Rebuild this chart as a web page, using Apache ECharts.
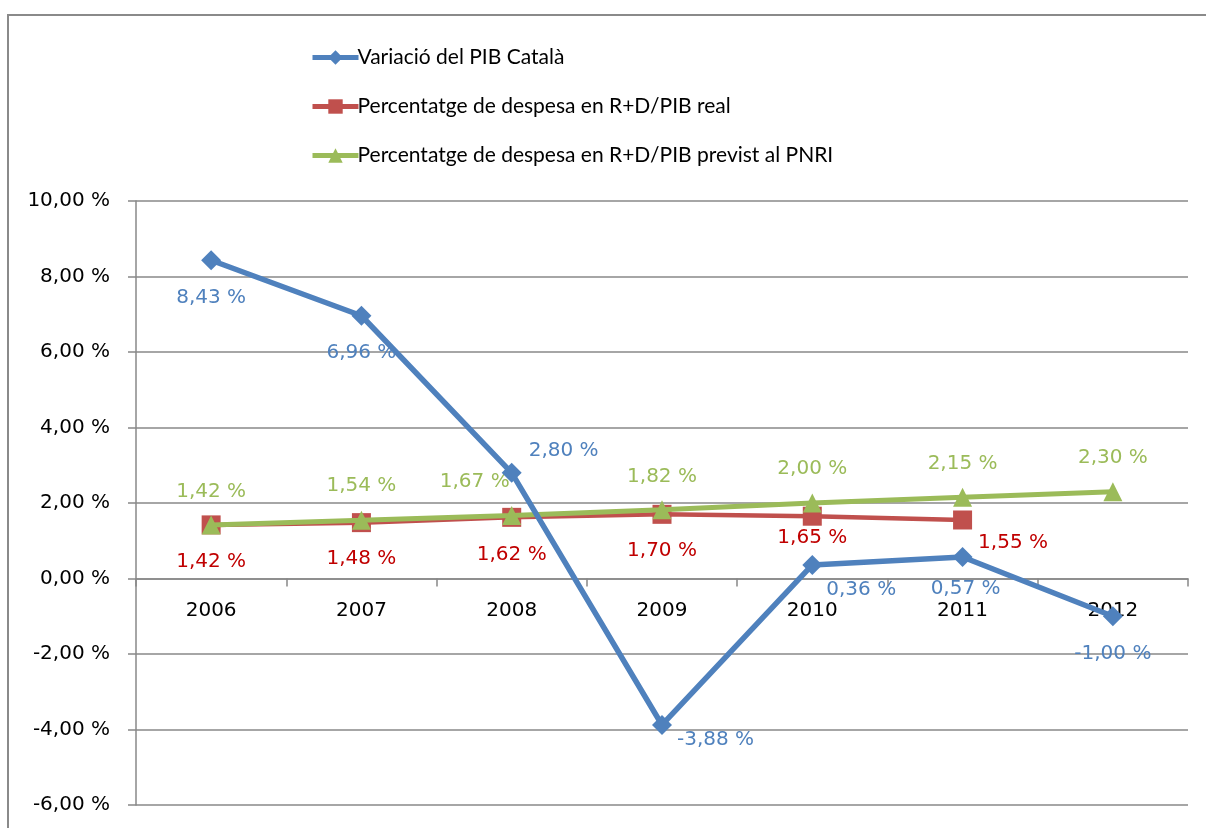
<!DOCTYPE html>
<html>
<head>
<meta charset="utf-8">
<script src="https://cdn.jsdelivr.net/npm/echarts@6/dist/echarts.min.js"></script>
<style>
html,body{margin:0;padding:0;background:#fff;}
#chart{width:1206px;height:828px;}
</style>
</head>
<body>
<div id="chart"></div>
<script>
const years = ['2006','2007','2008','2009','2010','2011','2012'];
const pibVariation = [8.43, 6.96, 2.80, -3.88, 0.36, 0.57, -1.00];
const rdReal = [1.42, 1.48, 1.62, 1.70, 1.65, 1.55, null];
const rdPlanned = [1.42, 1.54, 1.67, 1.82, 2.00, 2.15, 2.30];
const seriesNames = [
  'Variació del PIB Català',
  'Percentatge de despesa en R+D/PIB real',
  'Percentatge de despesa en R+D/PIB previst al PNRI'
];
const yTicks = {min: -6, max: 10, interval: 2};

// label placement (styling, not data)
const bluePos = [
  {position:'bottom', distance:18},
  {position:'bottom', distance:17},
  {position:'right', distance:7, offset:[0,-22]},
  {position:'right', distance:5, offset:[0,15]},
  {position:'right', distance:4, offset:[0,25]},
  {position:'bottom', distance:12, offset:[3,0]},
  {position:'bottom', distance:18}
];
const redPos = [
  {position:'bottom', distance:17},
  {position:'bottom', distance:17},
  {position:'bottom', distance:18},
  {position:'bottom', distance:17},
  {position:'bottom', distance:2},
  {position:'right', distance:6, offset:[0,23]},
  {position:'bottom', distance:17}
];
const greenPos = [
  {position:'top', distance:14},
  {position:'top', distance:15},
  {position:'top', distance:14, offset:[-37,0]},
  {position:'top', distance:13},
  {position:'top', distance:15},
  {position:'top', distance:14},
  {position:'top', distance:14}
];

const FONT = 'Lato';
const NUMFONT = 'DejaVu Sans';
const fmt = v => v.toFixed(2).replace('.', ',') + ' %';

function buildData(values, positions) {
  return values.map((v, i) => ({
    value: v,
    label: Object.assign({}, positions[i])
  }));
}

const chart = echarts.init(document.getElementById('chart'), null, {renderer:'canvas'});
chart.setOption({
  animation: false,
  backgroundColor: '#fff',
  textStyle: {fontFamily: FONT},
  graphic: [{
    type: 'rect',
    shape: {x: 8, y: 15, width: 1260, height: 900},
    style: {fill: 'none', stroke: '#8a8a8a', lineWidth: 2},
    silent: true,
    z: -1
  }],
  legend: {
    orient: 'vertical',
    left: 305,
    top: 42,
    itemWidth: 46,
    itemHeight: 18,
    itemGap: 28,
    lineStyle: {width: 5},
    textStyle: {fontFamily: FONT, fontSize: 21, color: '#000', padding: [0,0,0,-6]},
    data: seriesNames
  },
  grid: {left: 136, right: 18, top: 201, bottom: 23, containLabel: false, outerBoundsMode: 'none'},
  xAxis: [{
    type: 'category',
    data: years,
    boundaryGap: true,
    axisLine: {onZero: true, lineStyle: {color: '#888', width: 1.5}},
    axisTick: {show: true, length: 8, inside: false, lineStyle: {color: '#888', width: 1.5}},
    axisLabel: {show: false},
    splitLine: {show: false}
  }, {
    type: 'category',
    data: years,
    position: 'bottom',
    offset: -226.5,
    boundaryGap: true,
    axisLine: {show: false, onZero: false},
    axisTick: {show: false},
    axisLabel: {fontFamily: NUMFONT, fontSize: 20, color: '#000', margin: 22},
    splitLine: {show: false}
  }],
  yAxis: {
    type: 'value',
    min: yTicks.min,
    max: yTicks.max,
    interval: yTicks.interval,
    axisLine: {show: true, lineStyle: {color: '#888', width: 1.5}},
    axisTick: {show: true, length: 8, lineStyle: {color: '#888', width: 1.5}},
    axisLabel: {fontFamily: NUMFONT, fontSize: 20, color: '#000', margin: 26, formatter: fmt},
    splitLine: {show: true, lineStyle: {color: '#888', width: 1.5}}
  },
  series: [
    {
      name: seriesNames[0],
      type: 'line',
      data: buildData(pibVariation, bluePos),
      symbol: 'diamond',
      symbolSize: 20,
      lineStyle: {color: '#4F81BD', width: 5.5},
      itemStyle: {color: '#4F81BD'},
      label: {show: true, fontFamily: NUMFONT, fontSize: 20, color: '#4F81BD', formatter: p => fmt(p.value)},
      z: 3
    },
    {
      name: seriesNames[1],
      type: 'line',
      data: buildData(rdReal, redPos),
      symbol: 'rect',
      symbolSize: 19,
      lineStyle: {color: '#C0504D', width: 4.5},
      itemStyle: {color: '#C0504D'},
      label: {show: true, fontFamily: NUMFONT, fontSize: 20, color: '#C00000', formatter: p => p.value == null ? '' : fmt(p.value)},
      z: 1
    },
    {
      name: seriesNames[2],
      type: 'line',
      data: buildData(rdPlanned, greenPos),
      symbol: 'triangle',
      symbolSize: 19,
      lineStyle: {color: '#9BBB59', width: 5},
      itemStyle: {color: '#9BBB59'},
      label: {show: true, fontFamily: NUMFONT, fontSize: 20, color: '#9BBB59', formatter: p => fmt(p.value)},
      z: 2
    }
  ]
});
</script>
</body>
</html>
